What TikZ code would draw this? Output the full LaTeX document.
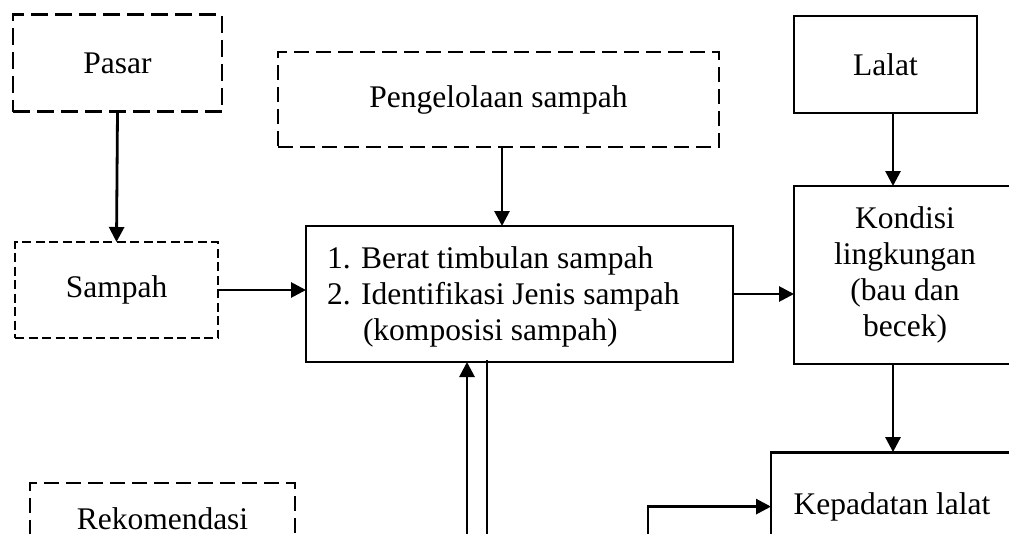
\documentclass[tikz,border=0pt]{standalone}
\usepackage{fontspec}
\setmainfont{Liberation Serif}
\usetikzlibrary{arrows.meta}
\begin{document}
\begin{tikzpicture}[x=1pt,y=-1pt,
  every node/.style={font=\fontsize{31.5}{36}\selectfont, inner sep=0pt, outer sep=0pt},
  solidbox/.style={draw, line width=2.8pt, rectangle},
  dashbox/.style={draw, line width=2.8pt, rectangle, dash pattern=on 17pt off 7pt},
  smalldash/.style={draw, line width=2.5pt, rectangle, dash pattern=on 9pt off 4.5pt},
  arr/.style={line width=2.8pt, -{Triangle[length=15pt,width=15pt]}},
  plain/.style={line width=2.8pt}]
\useasboundingbox (0,0) rectangle (1009,533);
\clip (0,0) rectangle (1009,533);

\node[dashbox, minimum width=209pt, minimum height=97pt] (pasar) at (117.5,63) {Pasar};
\node[smalldash, minimum width=203pt, minimum height=96pt] (sampah) at (116.5,290) {Sampah};
\node[dashbox, dash pattern=on 15pt off 7pt, minimum width=441pt, minimum height=95pt] (peng) at (498.5,99.5) {Pengelolaan sampah};
\node[solidbox, minimum width=427pt, minimum height=136pt] (main) at (519.5,294) {};
\node[anchor=west, align=left] (maintext) at (327,296.6) {1. Berat timbulan sampah\\2. Identifikasi Jenis sampah\\\hspace*{36pt}(komposisi sampah)};
\node[solidbox, minimum width=183pt, minimum height=97pt] (lalat) at (885.5,64.5) {Lalat};
\node[solidbox, align=center, minimum width=222pt, minimum height=178pt] (kondisi) at (905,275) {Kondisi\\lingkungan\\(bau dan\\becek)};
\node[solidbox, minimum width=242pt, minimum height=109pt] (kepadatan) at (892,506.6) {Kepadatan lalat};
\node[dashbox, dash pattern=on 15pt off 7pt, minimum width=265pt, minimum height=71pt] (rekom) at (162.5,518.5) {Rekomendasi};

\coordinate (upstart) at (467,545);
\coordinate (downend) at (487,545);
\coordinate (kstart) at (648,545);

\draw[arr] (pasar.south) -- (sampah.north);
\draw[arr] (sampah.east) -- (sampah.east -| main.west);
\draw[arr] ([xshift=3.5pt]peng.south) -- ([xshift=3.5pt]peng.south |- main.north);
\draw[arr] (main.east) -- (main.east -| kondisi.west);
\draw[arr] ([xshift=7.5pt]lalat.south) -- ([xshift=7.5pt]lalat.south |- kondisi.north);
\draw[arr] ([xshift=-12pt]kondisi.south) -- ([xshift=-12pt]kondisi.south |- kepadatan.north);
\draw[arr] (kstart) |- (kepadatan.west);
\draw[arr] (upstart) -- (upstart |- main.south);
\draw[plain] ([yshift=2pt]downend |- main.south) -- (downend);
\end{tikzpicture}
\end{document}
